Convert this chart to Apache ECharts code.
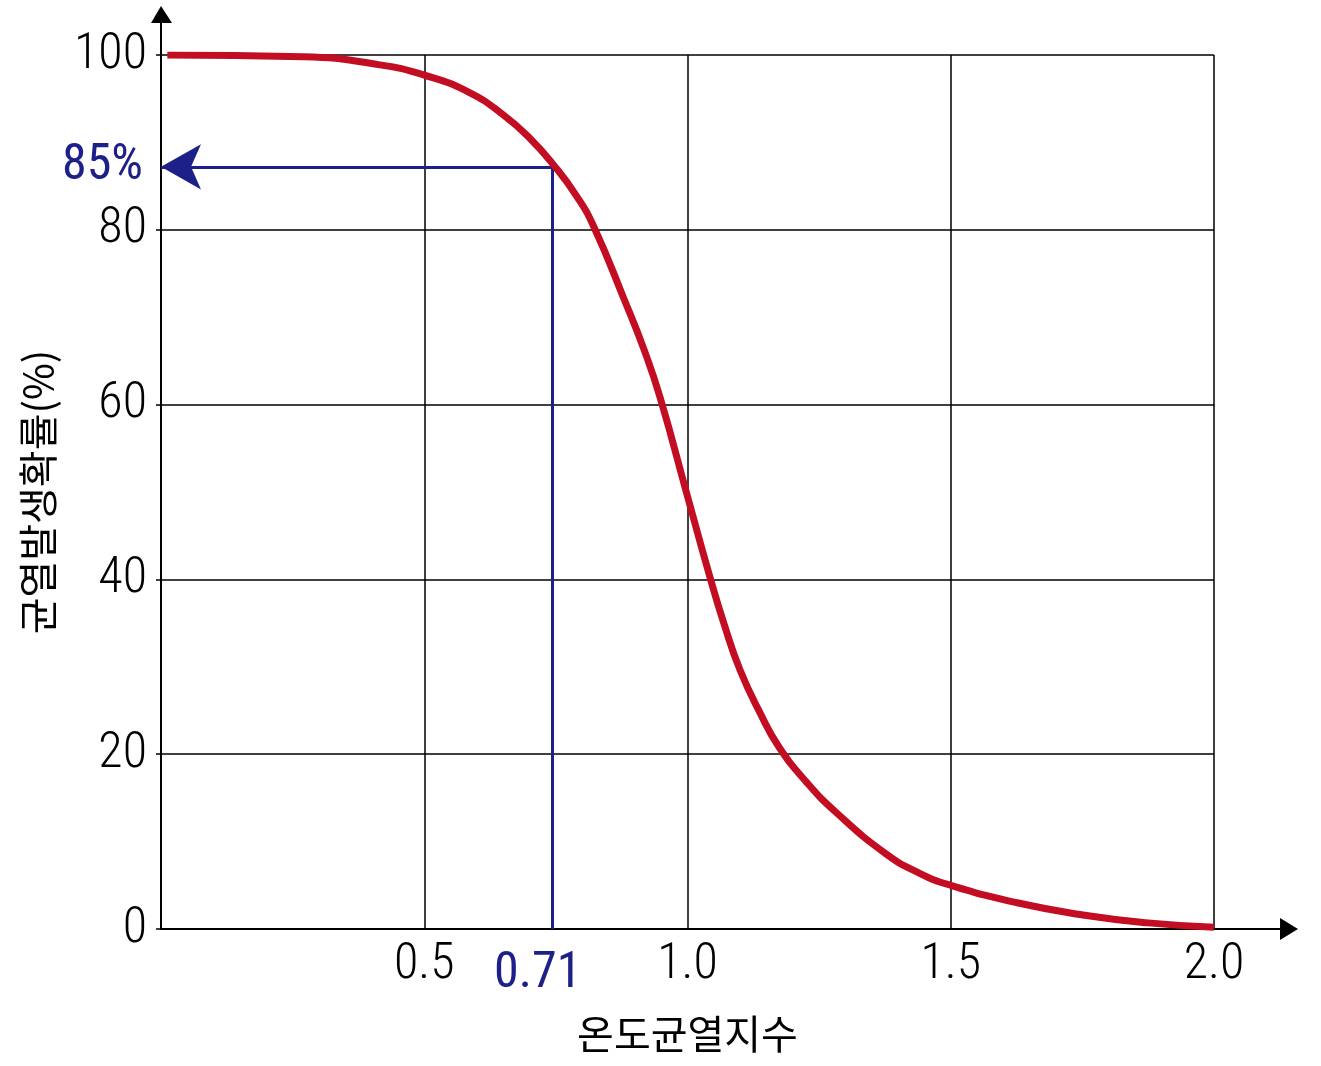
<!DOCTYPE html>
<html>
<head>
<meta charset="utf-8">
<script src="https://cdn.jsdelivr.net/npm/echarts@6/dist/echarts.min.js"></script>
<style>html,body{margin:0;padding:0;background:#fff;}#c{width:1321px;height:1066px;}</style>
</head>
<body>
<div id="c"></div>
<script>
// ---- data ----
const xValues = [0.012, 0.27, 0.413, 0.5, 0.586, 0.651, 0.700, 0.746, 0.790, 0.8225, 0.880, 0.918, 0.948, 1.0, 1.0415, 1.070, 1.1, 1.138, 1.174, 1.226, 1.283, 1.377, 1.44, 1.5, 1.626, 1.751, 1.875, 2.0];
const yValues = [100, 99.8, 98.9, 97.7, 95.7, 93.1, 90.5, 87.4, 83.8, 80.3, 72.0, 66.2, 60.8, 49.5, 40.5, 34.8, 29.6, 24.7, 20.8, 16.8, 13.3, 8.6, 6.4, 5.0, 3.0, 1.6, 0.7, 0.2];
const xTickLabels = ['0.5', '1.0', '1.5', '2.0'];
const yTickLabels = ['0', '20', '40', '60', '80', '100'];
const markX = 0.744;      // 온도균열지수 marker position
const markY = 87.2;       // probability marker position
const markXLabel = '0.71';
const markYLabel = '85%';
const xName = '온도균열지수';
const yName = '균열발생확률(%)';

const NUM_FONT = "'Roboto Condensed','Open Sans Condensed','Liberation Sans Narrow','Liberation Sans',sans-serif";
const KR_FONT = "'Noto Sans CJK KR',sans-serif";
const RED = '#c30d23';
const NAVY = '#1d2088';

const chart = echarts.init(document.getElementById('c'), null, {renderer: 'canvas'});
const seriesData = xValues.map((x, i) => [x, yValues[i]]);

chart.setOption({
  animation: false,
  backgroundColor: '#fff',
  grid: {left: 161, top: 55, right: 107, bottom: 137, containLabel: false},
  xAxis: {
    type: 'value', min: 0, max: 2, interval: 0.5,
    name: xName, nameLocation: 'middle', nameGap: 85,
    nameTextStyle: {fontFamily: KR_FONT, fontSize: 40, color: '#000'},
    axisLine: {show: true, lineStyle: {color: '#000', width: 2}},
    axisTick: {show: false},
    axisLabel: {
      showMinLabel: false, margin: 11,
      fontFamily: NUM_FONT, fontSize: 50, fontWeight: 300, color: '#000',
      formatter: v => { const i = Math.round(v / 0.5) - 1; return i >= 0 ? xTickLabels[i] : ''; }
    },
    splitLine: {show: true, showMinLine: false, showMaxLine: true, lineStyle: {color: '#000', width: 1.5}}
  },
  yAxis: {
    type: 'value', min: 0, max: 100, interval: 20,
    name: yName, nameLocation: 'middle', nameGap: 103, nameRotate: 90,
    nameTextStyle: {fontFamily: KR_FONT, fontSize: 40, color: '#000'},
    axisLine: {show: true, lineStyle: {color: '#000', width: 2}},
    axisTick: {show: true, length: 5, lineStyle: {color: '#000', width: 1.5}},
    axisLabel: {
      margin: 14, fontFamily: NUM_FONT, fontSize: 50, fontWeight: 300, color: '#000',
      formatter: v => yTickLabels[Math.round(v / 20)]
    },
    splitLine: {show: true, showMinLine: false, showMaxLine: true, lineStyle: {color: '#000', width: 1.5}}
  },
  series: [{
    type: 'line',
    data: seriesData,
    smooth: 0.5,
    showSymbol: false,
    symbol: 'none',
    z: 5,
    lineStyle: {color: RED, width: 7, cap: 'butt'},
    markLine: {
      silent: true,
      animation: false,
      z: 4,
      lineStyle: {color: NAVY, width: 3, type: 'solid'},
      data: [
        [
          {coord: [markX, markY], symbol: 'none'},
          {coord: [0, markY], symbol: 'arrow', symbolSize: [34, 40],
           label: {show: true, position: 'end', distance: 18, formatter: markYLabel,
                   fontFamily: NUM_FONT, fontSize: 50, color: NAVY}}
        ],
        [
          {coord: [markX, markY], symbol: 'none'},
          {coord: [markX, 0], symbol: 'none',
           label: {show: true, position: 'end', distance: 20, formatter: markXLabel,
                   padding: [0, 30, 0, 0],
                   fontFamily: NUM_FONT, fontSize: 50, color: NAVY}}
        ]
      ]
    }
  }]
});

// axis extensions with arrow heads
const origin = chart.convertToPixel({gridIndex: 0}, [0, 0]);
const xEnd = chart.convertToPixel({gridIndex: 0}, [2, 0]);
const yEnd = chart.convertToPixel({gridIndex: 0}, [0, 100]);
chart.setOption({
  graphic: [
    {type: 'line', shape: {x1: xEnd[0], y1: origin[1], x2: xEnd[0] + 70, y2: origin[1]}, style: {stroke: '#000', lineWidth: 2}},
    {type: 'polygon', shape: {points: [[xEnd[0] + 66, origin[1] - 11], [xEnd[0] + 84, origin[1]], [xEnd[0] + 66, origin[1] + 11]]}, style: {fill: '#000'}},
    {type: 'line', shape: {x1: origin[0], y1: yEnd[1], x2: origin[0], y2: yEnd[1] - 34}, style: {stroke: '#000', lineWidth: 2}},
    {type: 'polygon', shape: {points: [[origin[0] - 10, yEnd[1] - 32], [origin[0], yEnd[1] - 49], [origin[0] + 11, yEnd[1] - 32]]}, style: {fill: '#000'}}
  ]
});
</script>
</body>
</html>
